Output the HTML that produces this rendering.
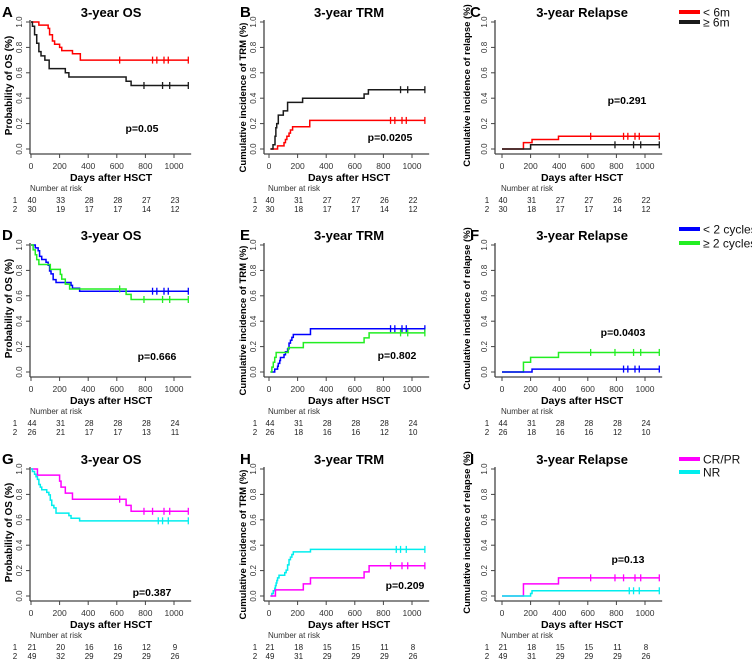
<!DOCTYPE html>
<html><head><meta charset="utf-8">
<style>
html,body{margin:0;padding:0;background:#fff;}
svg{display:block;font-family:"Liberation Sans",Arial,sans-serif;}
</style></head>
<body>
<svg id="fig" width="752" height="659" viewBox="0 0 752 659" xmlns="http://www.w3.org/2000/svg"></svg>
<script>
// ---- data arrays ----
const xTicks = [0, 200, 400, 600, 800, 1000];
const yTicks = [0, 0.2, 0.4, 0.6, 0.8, 1.0];
const riskTimes = [0, 200, 400, 600, 800, 1000];

// Panel A (OS, <6m red / >=6m black)
const aRedT = [0, 55, 120, 130, 150, 165, 200, 215, 290, 345];
const aRedV = [1, 0.975, 0.95, 0.9, 0.85, 0.825, 0.8, 0.775, 0.75, 0.70];
const aRedC = [620, 850, 880, 930, 960, 1100];
const aBlkT = [0, 10, 25, 40, 55, 70, 97, 127, 240, 265, 665, 700];
const aBlkV = [1, 0.967, 0.9, 0.833, 0.767, 0.733, 0.70, 0.633, 0.60, 0.567, 0.533, 0.50];
const aBlkC = [790, 920, 970, 1100];
// Panel B (TRM)
const bRedT = [10, 60, 105, 115, 125, 140, 150, 165, 285];
const bRedV = [0, 0.025, 0.05, 0.075, 0.10, 0.125, 0.15, 0.175, 0.225];
const bRedC = [850, 880, 930, 960, 1090];
const bBlkT = [10, 28, 42, 48, 54, 65, 100, 130, 235, 665, 695];
const bBlkV = [0, 0.033, 0.10, 0.167, 0.20, 0.267, 0.30, 0.367, 0.40, 0.433, 0.467];
const bBlkC = [920, 970, 1090];
// Panel C (Relapse)
const cRedT = [0, 150, 210, 395];
const cRedV = [0, 0.05, 0.075, 0.10];
const cRedC = [620, 850, 880, 930, 960, 1100];
const cBlkT = [0, 200];
const cBlkV = [0, 0.033];
const cBlkC = [790, 920, 970, 1100];
// Panel D (OS, <2 cycles blue / >=2 green)
const dBluT = [0, 30, 50, 60, 75, 105, 120, 130, 140, 155, 175, 280, 290, 340];
const dBluV = [1, 0.977, 0.955, 0.91, 0.886, 0.864, 0.841, 0.795, 0.773, 0.727, 0.705, 0.682, 0.659, 0.636];
const dBluC = [850, 880, 930, 960, 1100];
const dGrnT = [0, 15, 30, 40, 55, 135, 205, 215, 240, 270, 665, 700];
const dGrnV = [1, 0.962, 0.923, 0.885, 0.846, 0.808, 0.769, 0.731, 0.692, 0.654, 0.611, 0.571];
const dGrnC = [620, 790, 920, 970, 1100];
// Panel E (TRM)
const eBluT = [10, 40, 60, 65, 75, 80, 105, 115, 130, 140, 150, 160, 170, 290];
const eBluV = [0, 0.023, 0.045, 0.068, 0.091, 0.114, 0.136, 0.159, 0.182, 0.227, 0.25, 0.273, 0.295, 0.341];
const eBluC = [850, 880, 930, 960, 1090];
const eGrnT = [10, 20, 30, 40, 50, 135, 240, 665, 700];
const eGrnV = [0, 0.038, 0.077, 0.115, 0.154, 0.192, 0.231, 0.269, 0.308];
const eGrnC = [920, 970, 1090];
// Panel F (Relapse)
const fGrnT = [0, 150, 200, 395];
const fGrnV = [0, 0.077, 0.115, 0.154];
const fGrnC = [620, 790, 920, 970, 1100];
const fBluT = [0, 210];
const fBluV = [0, 0.023];
const fBluC = [850, 880, 930, 960, 1100];
// Panel G (OS, CR/PR magenta / NR cyan)
const gMagT = [0, 45, 200, 210, 240, 290, 665, 700];
const gMagV = [1, 0.952, 0.905, 0.857, 0.81, 0.762, 0.714, 0.667];
const gMagC = [620, 790, 850, 930, 970, 1100];
const gCynT = [0, 10, 25, 35, 45, 55, 65, 75, 110, 125, 135, 145, 160, 175, 265, 280, 340];
const gCynV = [1, 0.98, 0.959, 0.939, 0.918, 0.878, 0.857, 0.837, 0.816, 0.796, 0.755, 0.714, 0.694, 0.653, 0.633, 0.612, 0.592];
const gCynC = [890, 920, 960, 1100];
// Panel H (TRM)
const hCynT = [10, 20, 30, 40, 45, 50, 55, 60, 70, 110, 120, 130, 140, 150, 160, 170, 290];
const hCynV = [0, 0.02, 0.041, 0.061, 0.082, 0.102, 0.122, 0.143, 0.163, 0.184, 0.204, 0.245, 0.286, 0.306, 0.327, 0.347, 0.367];
const hCynC = [890, 920, 960, 1090];
const hMagT = [10, 45, 240, 290, 665, 700];
const hMagV = [0, 0.048, 0.095, 0.143, 0.19, 0.238];
const hMagC = [850, 930, 970, 1090];
// Panel I (Relapse)
const iMagT = [0, 150, 395];
const iMagV = [0, 0.095, 0.143];
const iMagC = [620, 790, 850, 930, 970, 1100];
const iCynT = [0, 200, 210];
const iCynV = [0, 0.02, 0.041];
const iCynC = [890, 920, 960, 1100];

// Number at risk tables
const riskA1 = [40, 33, 28, 28, 27, 23], riskA2 = [30, 19, 17, 17, 14, 12];
const riskB1 = [40, 31, 27, 27, 26, 22], riskB2 = [30, 18, 17, 17, 14, 12];
const riskD1 = [44, 31, 28, 28, 28, 24], riskD2 = [26, 21, 17, 17, 13, 11];
const riskE1 = [44, 31, 28, 28, 28, 24], riskE2 = [26, 18, 16, 16, 12, 10];
const riskG1 = [21, 20, 16, 16, 12, 9],  riskG2 = [49, 32, 29, 29, 29, 26];
const riskH1 = [21, 18, 15, 15, 11, 8],  riskH2 = [49, 31, 29, 29, 29, 26];
const pValues = ["p=0.05", "p=0.0205", "p=0.291", "p=0.666", "p=0.802", "p=0.0403", "p=0.387", "p=0.209", "p=0.13"];

// ---- drawing ----
const NS = "http://www.w3.org/2000/svg";
const svg = document.getElementById("fig");
function el(tag, attrs, parent, text) {
  const e = document.createElementNS(NS, tag);
  for (const k in attrs) e.setAttribute(k, attrs[k]);
  if (text !== undefined) e.textContent = text;
  (parent || svg).appendChild(e);
  return e;
}
const COL = {red:"#ff0000", blk:"#1a1a1a", blu:"#0000ff", grn:"#22ee22", mag:"#ff00ff", cyn:"#00eeee"};
const colX = [{x0:31, ax:30, ylab:8, ydy:0, yfs:10, letter:2, risk:15}, {x0:269, ax:264, ylab:242, ydy:12, yfs:9.5, letter:240, risk:255}, {x0:502, ax:495, ylab:466, ydy:0, yfs:9.5, letter:470, risk:487}];
const rowOff = [0, 223, 447];
const XS = 0.143;
const titles = ["3-year OS", "3-year TRM", "3-year Relapse"];
const ylabels = ["Probability of OS (%)", "Cumulative incidence of TRM (%)", "Cumulative incidence of relapse (%)"];
const letters = ["A","B","C","D","E","F","G","H","I"];
const pPos = [[142,128],[390,137],[627,100],[157,356],[397,355],[623,332],[152,592],[405,585],[628,559]];
const panelSeries = [
  [[aRedT,aRedV,aRedC,"red"],[aBlkT,aBlkV,aBlkC,"blk"]],
  [[bRedT,bRedV,bRedC,"red"],[bBlkT,bBlkV,bBlkC,"blk"]],
  [[cRedT,cRedV,cRedC,"red"],[cBlkT,cBlkV,cBlkC,"blk"]],
  [[dBluT,dBluV,dBluC,"blu"],[dGrnT,dGrnV,dGrnC,"grn"]],
  [[eBluT,eBluV,eBluC,"blu"],[eGrnT,eGrnV,eGrnC,"grn"]],
  [[fGrnT,fGrnV,fGrnC,"grn"],[fBluT,fBluV,fBluC,"blu"]],
  [[gMagT,gMagV,gMagC,"mag"],[gCynT,gCynV,gCynC,"cyn"]],
  [[hCynT,hCynV,hCynC,"cyn"],[hMagT,hMagV,hMagC,"mag"]],
  [[iMagT,iMagV,iMagC,"mag"],[iCynT,iCynV,iCynC,"cyn"]]
];
const panelRisk = [[riskA1,riskA2],[riskB1,riskB2],[riskB1,riskB2],[riskD1,riskD2],[riskE1,riskE2],[riskE1,riskE2],[riskG1,riskG2],[riskH1,riskH2],[riskH1,riskH2]];

for (let r = 0; r < 3; r++) {
  for (let c = 0; c < 3; c++) {
    const idx = r * 3 + c;
    const g = el("g", {});
    
    
    const off = rowOff[r], cx = colX[c];
    const top = 22 + off, bot = 149 + off;
    const xS = t => cx.x0 + t * XS;
    const yS = v => bot - v * (bot - top);
    const lt = el("text", {x: cx.letter, y: 17 + off, "font-size": 15, "font-weight": "bold"}, g, letters[idx]);
    
    
    const tt = el("text", {x: xS(560), y: 17 + off, "font-size": 13, "font-weight": "bold", "text-anchor": "middle"}, g, titles[c]);
    
    
    const ya = el("line", {x1: cx.ax, x2: cx.ax, y1: top - 2, y2: bot + 5, stroke: "#444", "stroke-width": 1.3}, g);
    
    
    yTicks.forEach(v => {
      el("line", {x1: cx.ax - 4, x2: cx.ax, y1: yS(v), y2: yS(v), stroke: "#444", "stroke-width": 1}, g);
      const tl = el("text", {x: 0, y: 0, "font-size": 8, "text-anchor": "middle", fill: "#333", transform: `translate(${cx.ax - 8},${yS(v)}) rotate(-90)`}, g, v.toFixed(1));
      
      
    });
    const yl = el("text", {x: 0, y: 0, "font-size": cx.yfs, "font-weight": "bold", "text-anchor": "middle", transform: `translate(${cx.ylab + 4},${(top + bot) / 2 + cx.ydy}) rotate(-90)`}, g, ylabels[c]);
    
    
    const xa = el("line", {x1: cx.ax, x2: xS(1120), y1: bot + 5, y2: bot + 5, stroke: "#444", "stroke-width": 1.3}, g);
    
    
    xTicks.forEach(t => {
      el("line", {x1: xS(t), x2: xS(t), y1: bot + 5, y2: bot + 9, stroke: "#444", "stroke-width": 1}, g);
      const tl = el("text", {x: xS(t), y: bot + 20, "font-size": 8.5, "text-anchor": "middle", fill: "#333"}, g, String(t));
      
      
    });
    const xl = el("text", {x: xS(560), y: bot + 32, "font-size": 10.5, "font-weight": "bold", "text-anchor": "middle"}, g, "Days after HSCT");
    
    
    panelSeries[idx].forEach(s => {
      const [T, V, C, col] = s;
      const endT = Math.max(C.length ? C[C.length - 1] : T[T.length - 1], T[T.length - 1]);
      let d = `M${xS(T[0])},${yS(V[0])}`;
      for (let i = 1; i < T.length; i++) d += ` H${xS(T[i])} V${yS(V[i])}`;
      d += ` H${xS(endT)}`;
      const p = el("path", {d: d, fill: "none", stroke: COL[col], "stroke-width": 1.5}, g);
      
      
      C.forEach(ct => {
        let v = V[0];
        for (let i = 0; i < T.length; i++) if (T[i] <= ct) v = V[i];
        const m = el("line", {x1: xS(ct), x2: xS(ct), y1: yS(v) - 3.5, y2: yS(v) + 3.5, stroke: COL[col], "stroke-width": 1.3}, g);
        
        
      });
    });
    const pv = el("text", {x: pPos[idx][0], y: pPos[idx][1] + 4, "font-size": 10.5, "font-weight": "bold", "text-anchor": "middle"}, g, pValues[idx]);
    
    
    const nr = el("text", {x: cx.x0 - 1, y: bot + 42, "font-size": 8, fill: "#333"}, g, "Number at risk");
    
    
    panelRisk[idx].forEach((row, ri) => {
      const yy = bot + 54 + ri * 9;
      el("text", {x: cx.risk, y: yy, "font-size": 8, fill: "#222", "text-anchor": "middle"}, g, String(ri + 1));
      row.forEach((n, k) => {
        const t = el("text", {x: xS(riskTimes[k]) + 1, y: yy, "font-size": 8, fill: "#222", "text-anchor": "middle"}, g, String(n));
        
        
      });
    });
  }
}
const legends = [
  [[12, "red", "< 6m"], [22, "blk", "\u2265 6m"]],
  [[229, "blu", "< 2 cycles"], [243, "grn", "\u2265 2 cycles"]],
  [[459, "mag", "CR/PR"], [472, "cyn", "NR"]]
];
legends.forEach(lg => {
  const g = el("g", {});
  
  
  lg.forEach(e => {
    const ln = el("line", {x1: 679, x2: 700, y1: e[0], y2: e[0], stroke: COL[e[1]], "stroke-width": 4}, g);
    
    
    const tx = el("text", {x: 703, y: e[0] + 4.5, "font-size": 12, fill: "#111"}, g, e[2]);
    
    
  });
});
</script>
</body></html>
